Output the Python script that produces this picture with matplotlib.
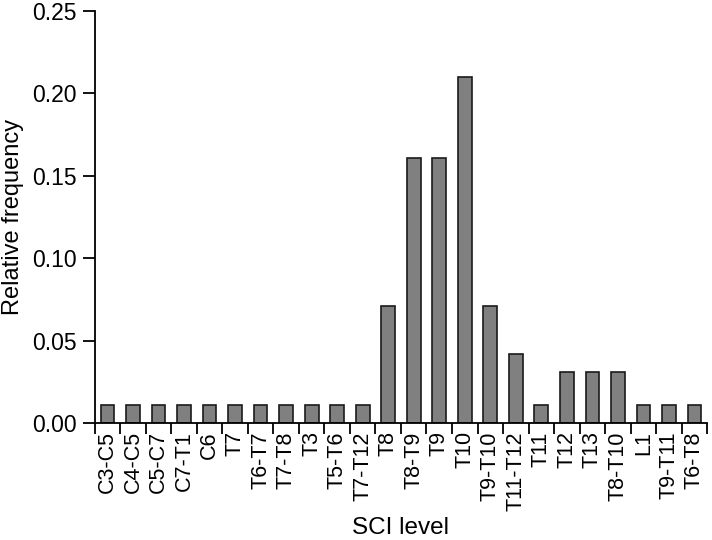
import numpy as np
import matplotlib
matplotlib.use('Agg')
import matplotlib.pyplot as plt

plt.rcParams['font.family'] = ['Liberation Sans', 'DejaVu Sans']

levels = ['C3-C5', 'C4-C5', 'C5-C7', 'C7-T1', 'C6', 'T7', 'T6-T7', 'T7-T8',
          'T3', 'T5-T6', 'T7-T12', 'T8', 'T8-T9', 'T9', 'T10', 'T9-T10',
          'T11-T12', 'T11', 'T12', 'T13', 'T8-T10', 'L1', 'T9-T11', 'T6-T8']
rel_freq = [0.011, 0.011, 0.011, 0.011, 0.011, 0.011, 0.011, 0.011,
            0.011, 0.011, 0.011, 0.071, 0.161, 0.161, 0.210, 0.071,
            0.042, 0.011, 0.031, 0.031, 0.031, 0.011, 0.011, 0.011]
y_ticks = [0.00, 0.05, 0.10, 0.15, 0.20, 0.25]

fig = plt.figure(figsize=(7.12, 5.4), dpi=100)
ax = fig.add_axes([0.1334, 0.2167, 0.8596, 0.763])

x = np.arange(len(levels))
ax.bar(x, rel_freq, width=0.53, color='#808080', edgecolor='#1a1a1a',
       linewidth=1.2)

ax.set_xlim(-0.5, len(levels) - 0.5)
ax.set_ylim(0, 0.25)
ax.set_yticks(y_ticks)
ax.set_yticklabels([f'{v:.2f}' for v in y_ticks])

ax.set_xticks(x)
ax.set_xticklabels(levels, rotation=90)
ax.set_xticks(np.arange(-0.5, len(levels)), minor=True)
ax.tick_params(axis='x', which='major', length=0, pad=6, labelsize=15.5)
ax.tick_params(axis='x', which='minor', length=8, width=1.3, direction='out')
ax.tick_params(axis='y', length=9, width=1.3, labelsize=16.5, pad=4)

for side in ['top', 'right']:
    ax.spines[side].set_visible(False)
for side in ['left', 'bottom']:
    ax.spines[side].set_linewidth(1.3)

ax.set_xlabel('SCI level', fontsize=17.5, va='center')
ax.xaxis.set_label_coords(0.5, -0.255)
ax.set_ylabel('Relative frequency', fontsize=17, va='center')
ax.yaxis.set_label_coords(-0.134, 0.5)

fig.savefig('out.png', dpi=100)
